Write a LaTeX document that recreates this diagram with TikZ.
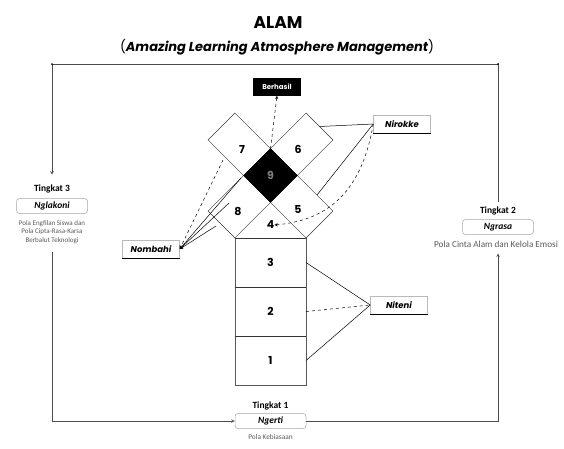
\documentclass[tikz,border=0pt]{standalone}
\usepackage{fontspec}
\setmainfont{Poppins}
\newfontfamily\calib{Carlito}
\usetikzlibrary{positioning,shapes.geometric}

\begin{document}
\begin{tikzpicture}[x=1pt,y=-1pt,>=stealth,line width=0.5pt,
  stk/.style={draw=gray!70!black,minimum width=71pt,minimum height=49pt,inner sep=0pt,outer sep=0pt,font=\bfseries\fontsize{11}{13}\selectfont},
  arm/.style={draw=black!80,minimum width=138.6pt,minimum height=38pt,inner sep=0pt,outer sep=0pt},
  num/.style={inner sep=0pt,font=\bfseries\fontsize{11}{13}\selectfont},
  tag/.style={draw=gray!55,fill=white,minimum width=57pt,minimum height=18pt,inner sep=0pt,font=\bfseries\itshape\fontsize{8.5}{10}\selectfont},
  lvl/.style={inner sep=0pt,font=\calib\bfseries\fontsize{9.5}{11}\selectfont},
  lvlbox/.style={draw=gray!70,rounded corners=3pt,minimum width=71pt,minimum height=15pt,inner sep=0pt,font=\calib\bfseries\itshape\fontsize{9.5}{11}\selectfont},
  note/.style={inner sep=0pt,text=gray!70!black,align=center},
  cycle/.style={draw=gray!60!black,line width=0.6pt}]

\useasboundingbox (0,0) rectangle (564,448);

% title
\node[font=\bfseries\fontsize{17}{20}\selectfont] (ttl) at (278,23) {ALAM};
\node[font=\bfseries\itshape\fontsize{13}{15}\selectfont] (sub) at (277,47) {{\mdseries\upshape(}Amazing Learning Atmosphere Management{\mdseries\upshape)}};

% crossed arms and the stack
\node[arm,rotate=-45] (armA) at (270.5,175.5) {};
\node[arm,rotate=45] (armB) at (270.5,175.5) {};
\node[diamond,draw,fill=black,minimum width=53.7pt,minimum height=53.7pt,inner sep=0pt,outer sep=0pt] (d9) at (270.5,175.5) {};

\node[stk] (s3) at (270.5,262.5) {3};
\node[stk] (s2) at (270.5,311.5) {2};
\node[stk] (s1) at (270.5,360.5) {1};
\foreach \b in {s3,s2,s1}
  \draw[line width=0.9pt,black!80] (\b.north west) -- (\b.north east);

\path (242,149) node[num] (n7) {7}
  (298,149) node[num] (n6) {6}
  (270.5,175) node[num,text=gray] (n9) {9}
  (238,211) node[num] (n8) {8}
  (298,209) node[num] (n5) {5}
  (270.5,225) node[num] (n4) {4};

% labels
\node[draw,fill=black,text=white,minimum width=47pt,minimum height=17pt,inner sep=0pt,font=\bfseries\fontsize{7}{8}\selectfont] (ber) at (277,87) {Berhasil};
\node[tag] (nir) at (402,124) {Nirokke};
\node[tag] (nit) at (399,305) {Niteni};
\node[tag] (nom) at (151,249) {Nombahi};
\foreach \n in {nir,nit,nom}
  \draw[line width=0.9pt] (\n.south west) -- (\n.south east);

% points on the shapes
\coordinate (p6) at (armB.east);
\coordinate (p5) at (317,195);
\coordinate (p7) at (223,160);
\coordinate (p9) at (241,178);
\coordinate (p8a) at (229,203);
\coordinate (p8b) at (216,226);

\draw[dashed,->] (d9.north) -- (ber.south);
\draw (p6) -- (nir.west);
\draw (p5) -- (nir.west);
\draw[dashed,->] (nir.west) .. controls (362,190) and (330,220) .. (n4.east);

\draw[dashed,->] (p7) -- (nom.east);
\draw[->] (p9) -- (nom.east);
\draw[->] (p8a) -- (nom.east);
\draw[->] (p8b) -- (nom.east);

\draw (s3.east) -- (nit.west);
\draw[dashed] (s2.east) -- (nit.west);
\draw (s1.east) -- (nit.west);

% levels
\node[lvl] (t3) at (52,189) {Tingkat 3};
\node[lvlbox] (ngl) at (52,206) {Nglakoni};
\node[note,font=\calib\fontsize{7}{8.8}\selectfont] (d3) at (52,232) {Pola Engfilan Siswa dan\\Pola Cipta-Rasa-Karsa\\Berbalut Teknologi};

\node[lvl] (t2) at (498,211) {Tingkat 2};
\node[lvlbox] (ngr) at (498,227) {Ngrasa};
\node[note,font=\calib\fontsize{9.2}{11}\selectfont] (d2) at (496,244) {Pola Cinta Alam dan Kelola Emosi};

\node[lvl] (t1) at (270.5,406) {Tingkat 1};
\node[lvlbox] (nge) at (270.5,421) {Ngerti};
\node[note,font=\calib\fontsize{7.3}{9}\selectfont] (d1) at (270.5,437) {Pola Kebiasaan};

\coordinate (tl) at (52,64);
\coordinate (tr) at (498,64);
\draw[cycle,->,shorten <=5pt,shorten >=10pt] (t2.north) |- (tl) -- (t3.north);
\draw[cycle,->,shorten <=8pt] (d3.south) |- (nge.west);
\draw[cycle,->,shorten >=6pt] (nge.east) -| (d2.south -| t2.south);
\fill (tl) circle (1pt) (tr) circle (1pt);
\end{tikzpicture}
\end{document}
